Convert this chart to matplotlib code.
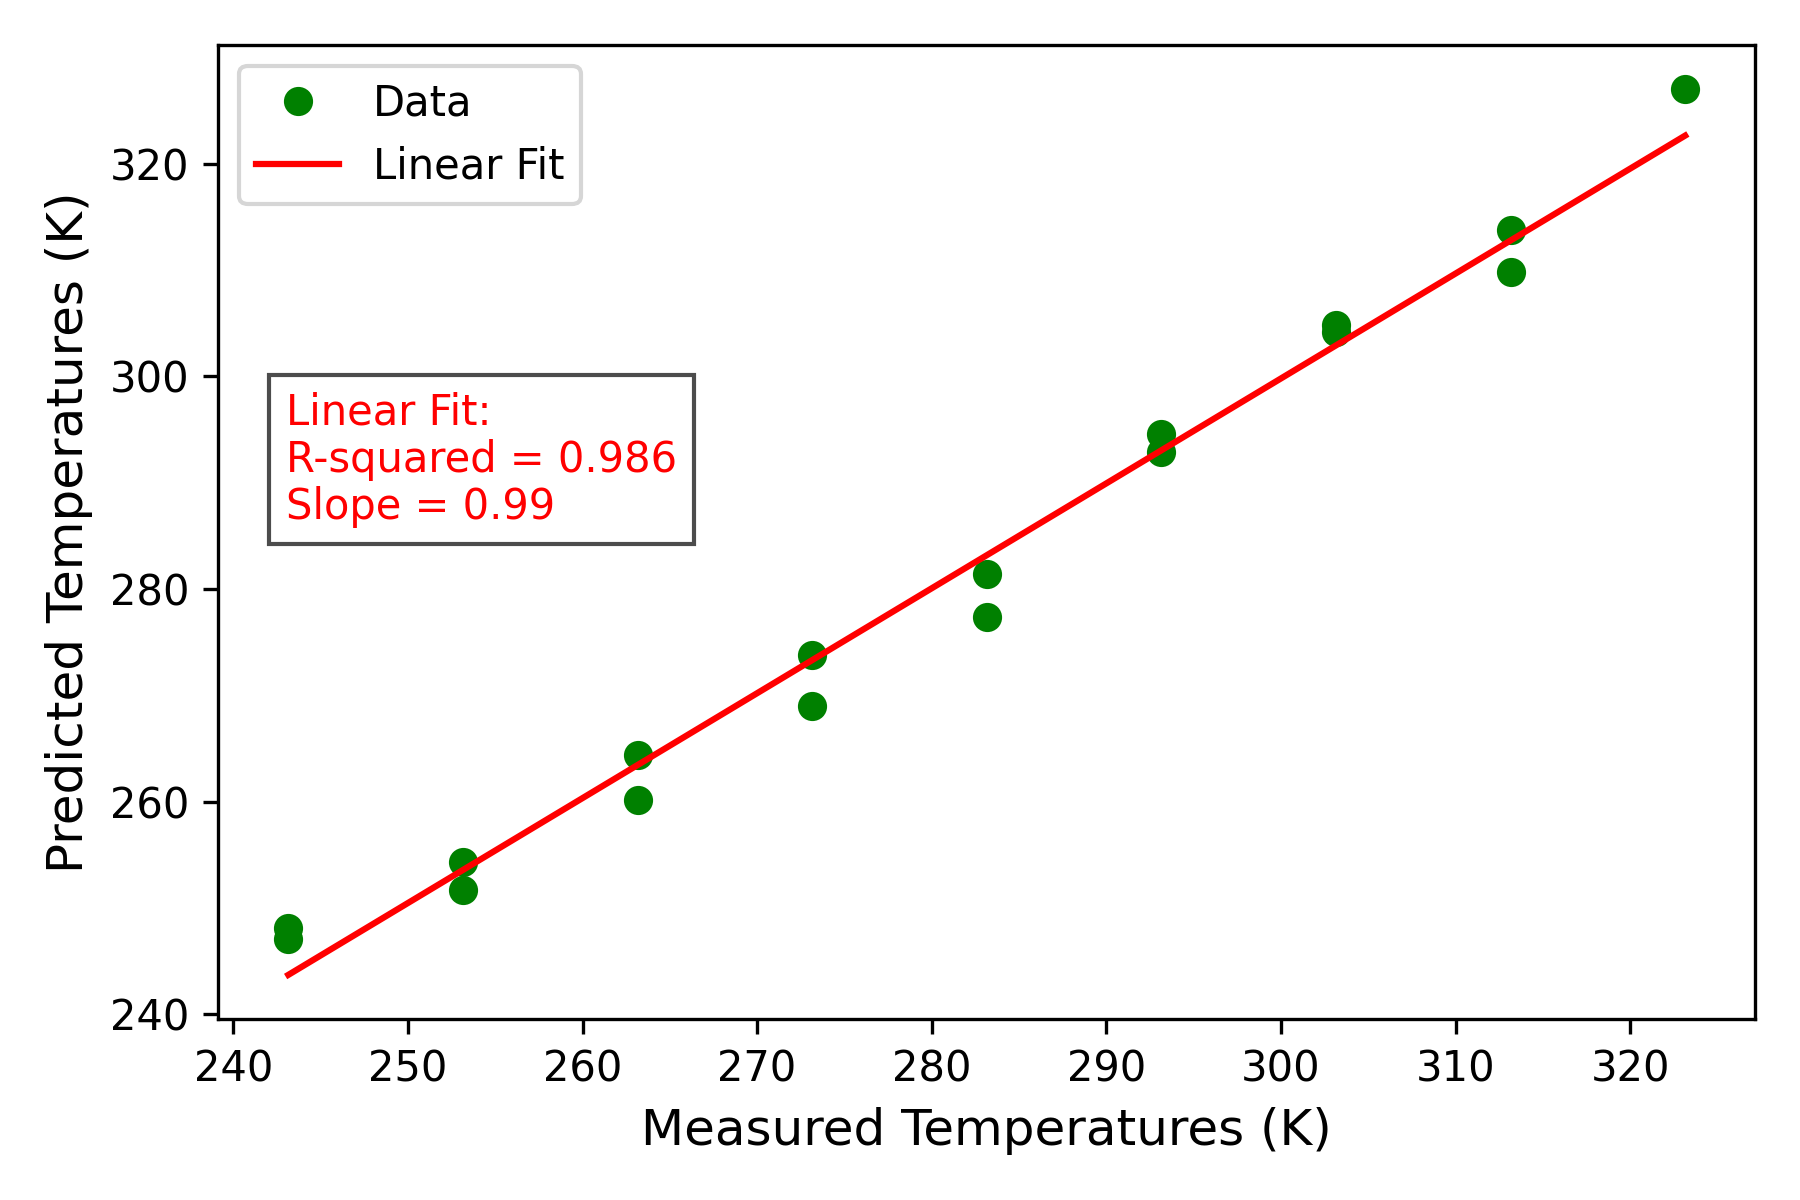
import numpy as np
import matplotlib
matplotlib.use("Agg")
import matplotlib.pyplot as plt

measured = [243.15, 243.15, 253.15, 253.15, 263.15, 263.15, 273.15, 273.15,
            283.15, 283.15, 293.15, 293.15, 303.15, 303.15, 313.15, 313.15, 323.15]
predicted = [248.1, 247.1, 254.3, 251.7, 264.4, 260.2, 273.8, 269.0,
             281.4, 277.4, 294.6, 292.9, 304.8, 304.2, 313.8, 309.8, 327.0]
fit_text = "Linear Fit:\nR-squared = 0.986\nSlope = 0.99"

x = np.array(measured)
y = np.array(predicted)
slope, intercept = np.polyfit(x, y, 1)
xs = np.array([x.min(), x.max()])

fig, ax = plt.subplots(figsize=(6, 4), dpi=300)
ax.plot(x, y, 'o', color='green', label='Data')
ax.plot(xs, slope * xs + intercept, color='red', label='Linear Fit')
ax.set_xlabel('Measured Temperatures (K)', fontsize=12)
ax.set_ylabel('Predicted Temperatures (K)', fontsize=12)
ax.legend(fontsize=10, loc='upper left')
ax.text(0.044, 0.644, fit_text, transform=ax.transAxes, fontsize=10, color='red',
        va='top', ha='left', linespacing=1.15,
        bbox=dict(facecolor='white', alpha=0.7))
fig.tight_layout()
fig.savefig('out.png', dpi=300)
